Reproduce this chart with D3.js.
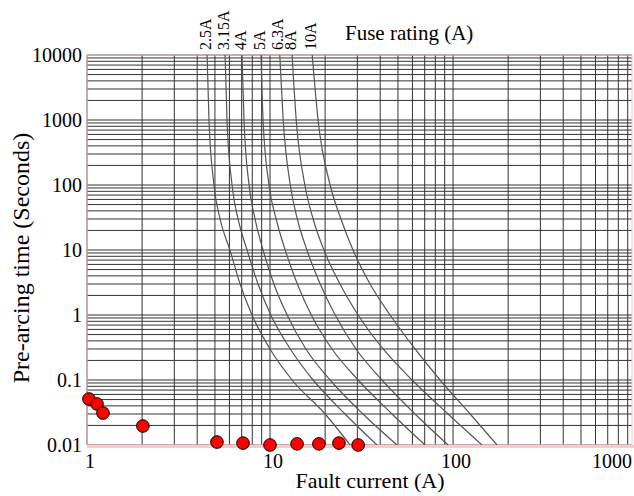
<!DOCTYPE html>
<html>
<head>
<meta charset="utf-8">
<script src="https://cdn.jsdelivr.net/npm/d3@7"></script>
<style>
  body { margin: 0; background: #fff; }
  svg text { font-family: "Liberation Serif", "Times New Roman", serif; fill: #000; }
</style>
</head>
<body>
<svg id="chart" width="634" height="496"></svg>
<script>
// fuse ratings and their pre-arcing curves (current in A at each time in s)
var ratings = ["2.5A", "3.15A", "4A", "5A", "6.3A", "8A", "10A"];
var curveTimes = [10000, 1000, 100, 30, 10, 3, 1, 0.3, 0.1, 0.03, 0.01];
var fuse25  = [4.53, 4.64, 4.94, 5.33, 6.04, 6.86, 7.97, 10.0, 13.2, 20.0, 27.4];
var fuse315 = [5.68, 5.82, 6.20, 6.69, 7.49, 8.60, 10.1, 12.9, 17.2, 25.7, 38.4];
var fuse4   = [7.03, 7.21, 7.68, 8.28, 9.16, 10.5, 12.4, 15.7, 21.3, 32.2, 49.4];
var fuse5   = [8.93, 9.16, 9.87, 10.8, 12.1, 14.1, 16.8, 21.8, 30.3, 46.4, 70.3];
var fuse63  = [11.3, 11.8, 12.9, 14.1, 15.9, 18.8, 22.7, 29.5, 40.9, 62.0, 93.9];
var fuse8   = [13.2, 13.9, 15.5, 17.2, 19.7, 24.1, 30.3, 41.5, 59.7, 93.9, 144];
var fuse10  = [17.0, 18.3, 21.3, 24.4, 28.4, 35.2, 45.3, 62.0, 84.9, 124, 174];
var fuseCurrents = [fuse25, fuse315, fuse4, fuse5, fuse63, fuse8, fuse10];

// measured fault points
var faultCurrent = [1.025, 1.134, 1.223, 2.02, 5.13, 7.12, 10.0, 14.05, 18.5, 23.8, 30.3];
var preArcTime   = [0.051, 0.0428, 0.031, 0.0196, 0.0111, 0.0107, 0.0100, 0.0104, 0.0104, 0.0107, 0.0100];

// axis labels
var xTickValues = [1, 10, 100, 1000];
var xTickLabels = ["1", "10", "100", "1000"];
var yTickValues = [0.01, 0.1, 1, 10, 100, 1000, 10000];
var yTickLabels = ["0.01", "0.1", "1", "10", "100", "1000", "10000"];

var svg = d3.select("#chart");
var pLeft = 87, pRight = 632, pTop = 55, pBottom = 445;

var x = d3.scaleLog().domain([1, 950]).range([pLeft, pRight]);
var y = d3.scaleLog().domain([0.01, 10000]).range([pBottom, pTop]);

// grid
var grid = svg.append("g").attr("stroke", "#333").attr("stroke-width", 1);
grid.selectAll("line.v").data(x.ticks()).enter().append("line")
  .attr("class", "v")
  .attr("x1", function(d) { return x(d); }).attr("x2", function(d) { return x(d); })
  .attr("y1", pTop).attr("y2", pBottom);
grid.selectAll("line.h").data(y.ticks()).enter().append("line")
  .attr("class", "h")
  .attr("x1", pLeft).attr("x2", pRight)
  .attr("y1", function(d) { return y(d); }).attr("y2", function(d) { return y(d); });

// frame
svg.append("rect").attr("x", pLeft).attr("y", pTop)
  .attr("width", pRight - pLeft).attr("height", pBottom - pTop)
  .attr("fill", "none").attr("stroke", "#f4c4c4").attr("stroke-width", 1);
svg.append("line").attr("x1", pLeft).attr("x2", pRight + 2)
  .attr("y1", pBottom + 1.5).attr("y2", pBottom + 1.5)
  .attr("stroke", "#fbcaca").attr("stroke-width", 3);

// fuse curves
svg.append("clipPath").attr("id", "plot").append("rect")
  .attr("x", pLeft).attr("y", pTop).attr("width", pRight - pLeft).attr("height", pBottom - pTop);

var line = d3.line()
  .x(function(d) { return x(d[0]); })
  .y(function(d) { return y(d[1]); })
  .curve(d3.curveMonotoneX);

var curves = svg.append("g").attr("clip-path", "url(#plot)");
fuseCurrents.forEach(function(cur) {
  var pts = cur.map(function(c, i) { return [c, curveTimes[i]]; });
  curves.append("path").attr("d", line(pts))
    .attr("fill", "none").attr("stroke", "#555").attr("stroke-width", 1.2);
});

// rating labels above curves
svg.selectAll("text.rating").data(ratings).enter().append("text")
  .attr("class", "rating")
  .attr("transform", function(d, i) { return "translate(" + (x(fuseCurrents[i][0]) - 2) + "," + (pTop - 5) + ") rotate(-90)"; })
  .attr("dy", "0.35em")
  .attr("font-size", 16)
  .text(function(d) { return d; });

svg.append("text").attr("x", 345).attr("y", 40).attr("font-size", 21).text("Fuse rating (A)");

// points
svg.selectAll("circle").data(faultCurrent).enter().append("circle")
  .attr("cx", function(d) { return x(d); })
  .attr("cy", function(d, i) { return y(preArcTime[i]); })
  .attr("r", 6.3)
  .attr("fill", "#ff0000").attr("stroke", "#000").attr("stroke-width", 1);

// tick labels
svg.selectAll("text.ytick").data(yTickValues).enter().append("text")
  .attr("class", "ytick")
  .attr("x", pLeft - 5).attr("y", function(d) { return y(d); })
  .attr("dy", "0.35em").attr("text-anchor", "end").attr("font-size", 20)
  .text(function(d, i) { return yTickLabels[i]; });

svg.selectAll("text.xtick").data(xTickValues).enter().append("text")
  .attr("class", "xtick")
  .attr("x", function(d) { return Math.min(x(d) + 3, pRight); })
  .attr("y", 468)
  .attr("text-anchor", function(d) { return x(d) > pRight ? "end" : "middle"; })
  .attr("font-size", 20)
  .text(function(d, i) { return xTickLabels[i]; });

// axis titles
svg.append("text").attr("x", 370).attr("y", 488)
  .attr("text-anchor", "middle").attr("font-size", 22).text("Fault current (A)");
svg.append("text").attr("transform", "translate(29,258) rotate(-90)")
  .attr("text-anchor", "middle").attr("font-size", 24).text("Pre-arcing time (Seconds)");
</script>
</body>
</html>
